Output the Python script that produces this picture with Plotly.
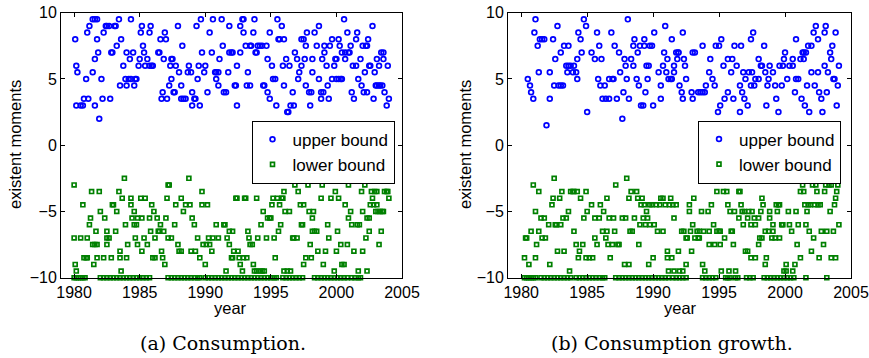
import plotly.graph_objects as go

# ---------------------------------------------------------------------------
# Data: months since Jan 1980 and the bound value (number of existent moments)
# ---------------------------------------------------------------------------

# (a) Consumption -- upper bound
a_upper_months = [
    1, 2, 3, 2, 6, 8, 9, 13, 11, 12,
    14, 17, 19, 21, 17, 19, 19, 21, 22, 23,
    25, 26, 27, 29, 30, 32, 33, 34, 35, 37,
    38, 39, 41, 42, 43, 45, 47, 48, 48, 50,
    51, 52, 52, 54, 55, 56, 57, 59, 60, 61,
    62, 63, 64, 65, 67, 69, 69, 70, 71, 72,
    77, 78, 79, 80, 81, 82, 83, 84, 85, 87,
    88, 89, 90, 89, 91, 92, 93, 95, 96, 98,
    98, 100, 102, 99, 104, 105, 107, 108, 108, 110,
    111, 112, 115, 113, 114, 116, 117, 119, 120, 122,
    124, 126, 127, 129, 130, 130, 132, 132, 133, 135,
    136, 137, 139, 141, 142, 142, 144, 145, 147, 148,
    149, 149, 152, 152, 154, 155, 155, 157, 159, 158,
    161, 161, 162, 164, 165, 166, 167, 168, 170, 172,
    173, 174, 176, 177, 177, 179, 179, 181, 182, 184,
    185, 186, 187, 188, 190, 191, 192, 192, 194, 195,
    196, 197, 198, 200, 201, 202, 204, 205, 206, 208,
    208, 210, 211, 212, 213, 212, 215, 217, 216, 218,
    218, 220, 222, 224, 224, 226, 226, 227, 229, 229,
    228, 231, 233, 232, 234, 236, 236, 238, 239, 240,
    240, 242, 242, 244, 245, 243, 245, 247, 248, 248,
    250, 251, 252, 253, 254, 255, 256, 258, 258, 259,
    260, 262, 263, 264, 265, 266, 267, 268, 268, 269,
    270, 271, 273, 274, 275, 276, 277, 279, 280, 282,
    277, 279, 281, 283, 283, 284, 286, 287, 288,
]
a_upper_values = [
    8.0, 6.0, 5.5, 3.0, 3.0, 3.0, 3.5, 3.5, 5.0, 8.5,
    9.0, 9.5, 9.5, 9.5, 5.5, 6.5, 3.0, 8.0, 7.0, 2.0,
    5.0, 3.5, 8.5, 9.0, 9.0, 9.0, 3.5, 7.0, 7.0, 9.0,
    9.0, 7.5, 9.5, 4.5, 8.0, 6.0, 5.0, 4.5, 7.0, 5.0,
    6.5, 9.5, 5.0, 7.0, 4.5, 5.0, 5.0, 6.0, 6.5, 8.5,
    9.0, 7.5, 7.0, 6.0, 6.5, 8.5, 6.0, 9.0, 6.0, 6.0,
    7.0, 7.0, 8.0, 3.5, 4.0, 6.5, 8.5, 8.0, 3.5, 4.5,
    6.0, 6.5, 6.5, 5.0, 4.0, 4.0, 6.0, 9.0, 5.5, 4.5,
    3.5, 3.5, 3.5, 7.5, 5.5, 6.0, 5.5, 3.0, 4.0, 3.5,
    3.5, 9.0, 3.0, 5.0, 6.0, 9.5, 7.0, 5.5, 6.0, 4.0,
    8.5, 7.0, 9.5, 5.5, 5.5, 5.0, 5.5, 4.5, 6.5, 9.5,
    7.5, 4.0, 4.0, 5.5, 9.0, 7.0, 7.0, 7.0, 4.5, 4.5,
    6.0, 3.0, 7.0, 9.0, 9.5, 9.5, 8.5, 7.5, 5.5, 4.5,
    4.5, 7.5, 7.5, 8.5, 9.5, 7.0, 7.0, 7.5, 7.5, 7.5,
    4.5, 4.5, 7.5, 4.0, 6.5, 8.5, 3.5, 6.0, 5.0, 5.0,
    3.0, 9.5, 8.0, 8.0, 9.0, 6.0, 8.0, 4.5, 6.5, 2.5,
    2.5, 6.0, 3.0, 4.0, 3.0, 7.0, 6.5, 5.0, 5.5, 6.0,
    8.0, 8.0, 6.5, 7.5, 8.5, 4.5, 4.0, 4.0, 3.0, 6.5,
    5.5, 8.5, 7.5, 5.0, 9.0, 3.5, 4.0, 6.5, 7.0, 7.5,
    4.0, 6.0, 3.5, 4.5, 7.5, 8.0, 5.0, 6.0, 6.5, 6.5,
    5.0, 8.0, 5.0, 5.0, 5.0, 7.5, 7.0, 9.5, 6.5, 7.0,
    8.5, 7.0, 7.0, 7.5, 4.0, 6.0, 3.5, 8.0, 6.0, 8.5,
    5.0, 6.5, 4.5, 7.5, 4.0, 5.5, 7.5, 7.5, 4.0, 8.0,
    6.0, 6.0, 9.0, 3.5, 5.5, 4.5, 4.5, 4.5, 4.5, 4.5,
    6.5, 6.0, 7.0, 7.0, 6.5, 4.0, 3.0, 6.0, 3.5,
]

# (a) Consumption -- lower bound
a_lower_months = [
    0, 0, 1, 2, 6, 8, 9, 11, 12, 12,
    14, 15, 16, 17, 18, 19, 21, 20, 21, 23,
    24, 27, 28, 30, 30, 30, 32, 34, 35, 36,
    38, 39, 41, 42, 43, 42, 44, 46, 47, 48,
    49, 52, 52, 53, 55, 55, 56, 57, 58, 58,
    61, 62, 62, 64, 65, 67, 69, 70, 71, 72,
    73, 74, 74, 76, 77, 78, 79, 80, 81, 82,
    83, 84, 85, 86, 86, 87, 89, 92, 93, 95,
    96, 98, 98, 100, 102, 105, 106, 107, 108, 110,
    111, 113, 115, 117, 117, 118, 120, 121, 122, 123,
    124, 126, 127, 130, 132, 137, 138, 139, 140, 142,
    142, 144, 145, 145, 146, 148, 149, 150, 151, 152,
    154, 155, 156, 157, 158, 159, 160, 161, 163, 164,
    165, 167, 167, 168, 170, 171, 172, 173, 174, 176,
    177, 179, 180, 181, 182, 183, 184, 186, 187, 188,
    189, 190, 191, 192, 192, 193, 195, 197, 198, 200,
    201, 202, 204, 205, 207, 208, 209, 210, 210, 212,
    213, 214, 215, 216, 217, 218, 218, 220, 222, 219,
    223, 226, 227, 228, 230, 232, 233, 235, 238, 239,
    240, 241, 242, 244, 245, 247, 248, 250, 251, 251,
    253, 254, 256, 259, 260, 261, 263, 264, 264, 266,
    267, 268, 268, 270, 270, 271, 272, 273, 274, 275,
    276, 277, 277, 278, 279, 280, 281, 282, 283, 284,
    286, 286, 287, 288,
]
a_lower_values = [
    -3.0, -7.0, -9.0, -9.5, -7.0, -4.5, -8.5, -8.5, -8.5, -7.0,
    -6.0, -5.5, -3.5, -7.5, -9.0, -7.5, -7.5, -6.5, -8.5, -3.5,
    -5.0, -8.5, -5.5, -7.0, -7.5, -6.5, -7.0, -8.5, -4.5, -4.5,
    -6.5, -5.0, -3.5, -8.0, -9.5, -8.5, -4.0, -2.5, -6.0, -8.5,
    -7.5, -4.0, -4.5, -5.5, -6.0, -5.0, -7.0, -6.0, -5.5, -7.5,
    -4.0, -8.0, -5.5, -7.0, -4.0, -7.5, -5.5, -6.5, -4.5, -8.5,
    -5.0, -7.0, -8.5, -5.5, -6.5, -6.5, -6.0, -8.0, -8.5, -6.5,
    -9.0, -5.5, -4.0, -7.0, -3.0, -3.0, -7.0, -6.0, -4.5, -7.5,
    -8.0, -8.0, -4.0, -5.0, -4.5, -2.5, -4.5, -8.0, -5.5, -6.0,
    -8.0, -7.0, -8.5, -3.5, -4.5, -7.5, -9.0, -7.5, -4.5, -7.0,
    -7.5, -8.0, -7.0, -6.0, -7.0, -6.0, -6.0, -9.5, -7.0, -7.5,
    -6.5, -8.5, -8.5, -6.5, -8.0, -4.0, -4.0, -8.0, -8.5, -9.0,
    -9.5, -8.5, -4.0, -4.0, -8.5, -6.5, -7.0, -7.5, -7.5, -9.0,
    -9.5, -9.5, -4.0, -7.0, -9.5, -6.0, -9.5, -5.0, -9.5, -7.0,
    -5.5, -5.5, -5.5, -4.5, -4.0, -7.0, -8.5, -4.0, -6.5, -4.5,
    -6.0, -4.0, -4.0, -3.5, -9.5, -5.0, -9.5, -5.0, -9.5, -7.0,
    -7.0, -3.0, -7.0, -3.5, -4.5, -6.0, -6.0, -9.0, -4.5, -8.5,
    -2.5, -3.0, -5.0, -7.5, -8.5, -5.5, -6.5, -6.5, -6.5, -5.0,
    -8.0, -4.0, -3.0, -9.0, -8.0, -6.0, -7.0, -4.0, -9.5, -3.5,
    -8.0, -6.5, -4.0, -7.5, -9.0, -9.0, -4.5, -7.5, -3.0, -5.5,
    -5.0, -6.0, -8.0, -6.0, -9.5, -6.0, -3.5, -8.0, -5.0, -3.0,
    -7.0, -9.5, -5.5, -5.5, -6.5, -4.5, -3.5, -4.0, -4.5, -3.5,
    -5.0, -4.5, -3.5, -5.0, -7.5, -5.0, -6.5, -5.0, -5.0, -3.5,
    -2.5, -3.5, -3.5, -4.0,
]
# months in which the (a) lower bound sits on the -10 floor
a_lower_floor_months = [
    0, 2, 4, 6, 8, 10,
    24, 27, 30, 33, 36, 39, 42, 45, 48, 51, 54, 57, 60, 63, 66, 69,
    86, 89, 92, 95, 98, 101, 104, 107, 110, 113, 115,
    120, 123, 126, 129, 132, 135, 138, 141, 144, 147, 150, 153, 156,
    159, 162, 165, 168, 171, 174, 177, 180, 183, 185,
    191, 194, 197, 200, 203, 206, 209,
    220, 223, 226, 229, 232, 235, 238, 241, 244, 247, 250,
    254, 257, 260, 262,
]

# (b) Consumption growth -- upper bound
b_upper_months = [
    6, 8, 9, 11, 12, 13, 15, 17, 19, 21,
    16, 23, 26, 26, 29, 30, 31, 33, 34, 36,
    36, 38, 39, 41, 42, 43, 43, 45, 47, 48,
    50, 51, 51, 52, 54, 55, 57, 59, 60, 64,
    67, 69, 70, 71, 72, 73, 74, 76, 77, 80,
    80, 82, 83, 84, 85, 87, 89, 90, 92, 93,
    94, 95, 97, 96, 98, 100, 102, 102, 103, 105,
    106, 107, 108, 109, 111, 112, 112, 113, 114, 115,
    116, 117, 119, 120, 121, 125, 127, 127, 129, 130,
    131, 132, 133, 134, 136, 137, 137, 139, 139, 141,
    142, 143, 143, 144, 146, 147, 147, 148, 149, 150,
    155, 156, 156, 158, 161, 163, 165, 165, 167, 168,
    171, 172, 174, 176, 177, 179, 181, 180, 182, 184,
    185, 188, 188, 191, 192, 193, 194, 196, 199, 200,
    199, 201, 202, 203, 204, 206, 207, 209, 209, 210,
    211, 212, 213, 216, 216, 218, 219, 221, 222, 223,
    224, 225, 226, 229, 231, 232, 234, 235, 237, 238,
    239, 240, 242, 244, 247, 247, 249, 250, 250, 252,
    254, 255, 256, 257, 257, 258, 259, 260, 261, 262,
    264, 264, 266, 267, 268, 270, 270, 271, 273, 274,
    276, 276, 277, 278, 279, 281, 282, 283, 284, 285,
    286, 287, 288, 289,
]
b_upper_values = [
    5.0, 4.5, 4.0, 3.5, 8.5, 9.5, 7.5, 8.0, 8.0, 8.0,
    5.5, 1.5, 3.5, 5.5, 8.0, 4.5, 6.5, 9.0, 4.5, 7.0,
    4.5, 4.5, 7.5, 6.0, 5.5, 7.5, 6.0, 6.0, 5.5, 6.0,
    5.5, 5.0, 6.5, 8.5, 8.0, 7.0, 9.5, 9.0, 2.5, 7.0,
    6.5, 8.5, 5.0, 7.5, 4.5, 6.5, 3.5, 4.5, 3.5, 3.5,
    5.0, 8.5, 5.0, 5.0, 7.5, 3.5, 7.0, 5.5, 2.0, 4.0,
    6.5, 6.0, 9.5, 5.0, 3.5, 6.5, 6.0, 7.5, 8.0, 5.0,
    7.0, 4.5, 7.5, 3.0, 3.0, 8.0, 7.5, 4.0, 6.0, 5.0,
    6.0, 7.5, 7.5, 3.0, 8.5, 5.5, 3.5, 4.5, 6.0, 7.0,
    9.0, 5.5, 6.5, 5.0, 5.0, 8.0, 5.0, 5.5, 6.0, 7.0,
    6.5, 7.0, 7.0, 4.5, 4.0, 3.5, 8.5, 6.5, 6.0, 5.0,
    4.0, 3.5, 7.0, 7.0, 4.0, 4.0, 4.0, 7.5, 4.0, 4.5,
    5.5, 6.5, 5.0, 4.5, 7.5, 2.5, 3.0, 7.5, 8.0, 6.0,
    3.5, 4.0, 6.5, 5.5, 6.5, 3.5, 7.5, 6.0, 2.5, 7.5,
    4.5, 4.0, 5.5, 3.5, 5.0, 3.0, 5.5, 4.5, 8.0, 5.5,
    8.5, 4.5, 5.0, 5.0, 6.5, 6.0, 6.0, 7.5, 5.5, 3.0,
    4.5, 5.0, 6.0, 5.5, 4.5, 3.5, 2.5, 6.0, 4.5, 6.0,
    6.5, 7.0, 5.0, 6.0, 6.0, 6.5, 4.0, 8.0, 5.0, 5.0,
    6.5, 3.5, 7.0, 6.5, 7.0, 3.0, 7.0, 4.5, 7.5, 2.5,
    7.5, 5.5, 8.5, 4.5, 9.0, 5.5, 8.0, 4.0, 3.5, 2.5,
    6.0, 8.5, 9.0, 4.0, 5.5, 7.0, 6.5, 7.5, 5.0, 5.0,
    8.5, 3.0, 4.5, 6.0,
]

# (b) Consumption growth -- lower bound
b_lower_months = [
    3, 4, 5, 7, 9, 11, 13, 13, 14, 16,
    16, 18, 19, 21, 22, 25, 26, 28, 29, 30,
    31, 32, 33, 35, 36, 37, 38, 39, 41, 43,
    44, 45, 47, 48, 48, 50, 51, 52, 53, 54,
    56, 57, 59, 59, 60, 62, 64, 65, 67, 67,
    69, 71, 72, 74, 75, 77, 78, 78, 79, 80,
    81, 83, 84, 85, 86, 88, 89, 92, 94, 95,
    96, 98, 98, 99, 100, 101, 103, 105, 106, 107,
    108, 109, 110, 111, 112, 113, 114, 115, 116, 117,
    117, 119, 120, 121, 123, 124, 126, 127, 129, 129,
    131, 133, 133, 134, 135, 136, 137, 138, 139, 139,
    141, 143, 144, 146, 147, 148, 150, 150, 151, 153,
    153, 154, 155, 156, 157, 158, 160, 161, 162, 162,
    164, 165, 166, 167, 170, 171, 171, 173, 175, 176,
    178, 178, 180, 181, 181, 182, 183, 184, 185, 187,
    188, 189, 190, 191, 192, 193, 194, 195, 198, 198,
    199, 200, 201, 202, 203, 203, 204, 206, 206, 207,
    209, 209, 210, 212, 213, 213, 215, 216, 216, 217,
    218, 219, 219, 220, 222, 222, 223, 225, 226, 226,
    228, 229, 229, 231, 232, 233, 234, 235, 235, 237,
    238, 239, 241, 241, 243, 244, 246, 247, 249, 250,
    251, 252, 254, 254, 256, 257, 258, 259, 260, 261,
    262, 263, 264, 265, 266, 267, 268, 269, 270, 271,
    272, 273, 274, 275, 276, 277, 278, 280, 281, 282,
    282, 284, 285, 286, 286, 287, 288, 289,
]
b_lower_values = [
    -8.5, -7.0, -7.0, -9.0, -6.5, -3.0, -8.5, -5.0, -7.5, -3.5,
    -6.5, -5.5, -7.0, -5.5, -7.0, -6.0, -9.0, -4.5, -4.0, -2.5,
    -6.0, -6.0, -8.0, -4.0, -6.0, -3.5, -5.5, -8.0, -5.5, -5.0,
    -9.5, -3.5, -3.5, -6.5, -3.5, -7.5, -3.5, -8.5, -8.0, -4.0,
    -7.5, -5.5, -3.5, -8.5, -5.0, -8.5, -4.5, -8.5, -7.0, -5.5,
    -7.5, -5.5, -4.5, -6.5, -5.0, -7.0, -4.0, -6.5, -7.5, -5.5,
    -8.5, -7.5, -5.5, -6.5, -3.0, -7.5, -7.5, -5.5, -9.0, -5.5,
    -2.5, -9.0, -4.0, -6.5, -3.5, -6.5, -5.5, -3.5, -4.0, -7.5,
    -6.0, -4.5, -4.0, -5.5, -4.5, -6.0, -5.0, -5.5, -9.0, -6.0,
    -4.5, -4.5, -8.5, -6.0, -4.5, -6.5, -4.5, -4.0, -6.5, -4.0,
    -4.5, -8.5, -8.0, -9.5, -4.5, -4.0, -8.5, -4.5, -9.5, -5.5,
    -4.5, -8.0, -9.5, -6.5, -9.5, -6.5, -7.0, -9.0, -7.0, -5.0,
    -4.5, -6.5, -8.0, -6.0, -4.0, -7.0, -6.5, -7.0, -7.0, -6.5,
    -5.0, -9.0, -6.5, -9.5, -5.0, -6.5, -7.5, -4.5, -6.0, -7.5,
    -6.5, -3.5, -6.5, -7.5, -6.5, -9.5, -2.5, -3.5, -7.0, -3.5,
    -4.5, -9.5, -5.0, -6.5, -6.5, -7.5, -5.0, -9.5, -5.5, -3.5,
    -3.5, -4.5, -5.0, -6.0, -2.5, -5.0, -8.0, -5.5, -8.0, -5.0,
    -8.5, -6.0, -5.0, -5.5, -8.5, -6.0, -2.5, -7.5, -5.5, -7.0,
    -5.0, -4.0, -7.0, -4.5, -6.5, -9.0, -8.5, -6.5, -5.5, -5.0,
    -7.0, -6.0, -6.5, -7.0, -4.5, -5.0, -4.5, -7.0, -4.5, -6.0,
    -6.0, -9.5, -9.5, -9.0, -5.0, -6.0, -6.5, -9.5, -9.0, -5.0,
    -7.5, -6.0, -8.5, -3.5, -3.0, -3.5, -4.5, -6.0, -5.0, -4.5,
    -6.5, -4.5, -8.0, -3.0, -7.0, -4.5, -3.0, -3.5, -4.5, -8.5,
    -4.5, -6.5, -2.5, -7.5, -3.5, -3.0, -6.5, -3.0, -5.0, -3.0,
    -8.5, -6.5, -4.5, -8.5, -4.0, -3.5, -3.0, -6.0,
]
# months in which the (b) lower bound sits on the -10 floor
b_lower_floor_months = [
    3, 5, 7, 9, 11, 13,
    18, 21, 24, 27, 30, 33, 36, 39, 42, 45,
    50, 53, 56, 59, 62, 65, 68, 71, 74, 76,
    86, 89, 92, 95, 98, 101, 104, 107, 110, 113, 116,
    119, 122, 125, 128, 131, 134,
    138, 141, 144, 147, 150,
    165, 168, 171, 174, 177,
    186, 188, 190, 195, 197, 205, 208, 211,
    221, 224, 227, 230, 233, 236, 239, 242, 245, 248,
    259, 278,
]

FLOOR = -10.0
x_ticks = [1980, 1985, 1990, 1995, 2000, 2005]
y_ticks = [-10, -5, 0, 5, 10]
panel_captions = ["(a) Consumption.", "(b) Consumption growth."]


def to_year(months):
    return [1980 + m / 12.0 for m in months]


BLUE = "#0000ff"
GREEN = "#008000"
SANS = "Liberation Sans, Arial, sans-serif"
SERIF = "DejaVu Serif, serif"
W, H = 869, 358

fig = go.Figure()

panels = [
    dict(up=(a_upper_months, a_upper_values),
         lo=(a_lower_months + a_lower_floor_months,
             a_lower_values + [FLOOR] * len(a_lower_floor_months)),
         xa="x", ya="y", legend="legend"),
    dict(up=(b_upper_months, b_upper_values),
         lo=(b_lower_months + b_lower_floor_months,
             b_lower_values + [FLOOR] * len(b_lower_floor_months)),
         xa="x2", ya="y2", legend="legend2"),
]

for p in panels:
    fig.add_trace(go.Scatter(
        x=to_year(p["up"][0]), y=p["up"][1], mode="markers",
        name="upper bound", xaxis=p["xa"], yaxis=p["ya"], legend=p["legend"],
        marker=dict(symbol="circle-open", size=4.8, color=BLUE,
                    line=dict(width=1.7, color=BLUE)),
        cliponaxis=False,
    ))
    fig.add_trace(go.Scatter(
        x=to_year(p["lo"][0]), y=p["lo"][1], mode="markers",
        name="lower bound", xaxis=p["xa"], yaxis=p["ya"], legend=p["legend"],
        marker=dict(symbol="square-open", size=3.9, color=GREEN,
                    line=dict(width=1.7, color=GREEN)),
        cliponaxis=False,
    ))

# plot areas in pixels: (left, right), (top, bottom)
areas = [((61, 402), (12.7, 277.7)), ((508, 851), (12.7, 277.7))]

axis_common = dict(
    showline=True, linecolor="black", linewidth=1, mirror="ticks",
    ticks="inside", ticklen=4, tickcolor="black", tickwidth=1,
    showgrid=False, zeroline=False, automargin=False,
    tickfont=dict(family=SANS, size=16, color="black"),
)

layout = dict(
    width=W, height=H, margin=dict(l=0, r=0, t=0, b=0, autoexpand=False),
    paper_bgcolor="white", plot_bgcolor="white", showlegend=True,
)
for i, ((x0, x1), (y0, y1)) in enumerate(areas):
    sfx = "" if i == 0 else "2"
    layout["xaxis" + sfx] = dict(
        domain=[x0 / W, x1 / W], range=[1979, 2005], tickvals=x_ticks,
        anchor="y" + sfx, **axis_common)
    layout["yaxis" + sfx] = dict(
        domain=[1 - y1 / H, 1 - y0 / H], range=[-10, 10], tickvals=y_ticks,
        anchor="x" + sfx, **axis_common)

legend_common = dict(
    bgcolor="white", bordercolor="black", borderwidth=1,
    font=dict(family=SANS, size=17, color="black"),
    xanchor="right", yanchor="top", tracegroupgap=0,
)
layout["legend"] = dict(x=394.5 / W, y=1 - 120.7 / H, **legend_common)
layout["legend2"] = dict(x=841 / W, y=1 - 120.5 / H, **legend_common)
fig.update_layout(**layout)

annotations = []
label_pos = [(15, 231, 223), (465, 680, 672)]
for (ylab_x, year_x, cap_x), caption in zip(label_pos, panel_captions):
    annotations.append(dict(
        x=ylab_x / W, y=1 - 145 / H, xref="paper", yref="paper",
        text="existent moments", textangle=-90, showarrow=False,
        font=dict(family=SANS, size=16.5, color="black"),
        xanchor="center", yanchor="middle"))
    annotations.append(dict(
        x=year_x / W, y=1 - 308 / H, xref="paper", yref="paper",
        text="year", showarrow=False,
        font=dict(family=SANS, size=16.5, color="black"),
        xanchor="center", yanchor="middle"))
    annotations.append(dict(
        x=cap_x / W, y=1 - 343 / H, xref="paper", yref="paper",
        text=caption, showarrow=False,
        font=dict(family=SERIF, size=19, color="black"),
        xanchor="center", yanchor="middle"))
fig.update_layout(annotations=annotations)

fig.write_html("out.html")
